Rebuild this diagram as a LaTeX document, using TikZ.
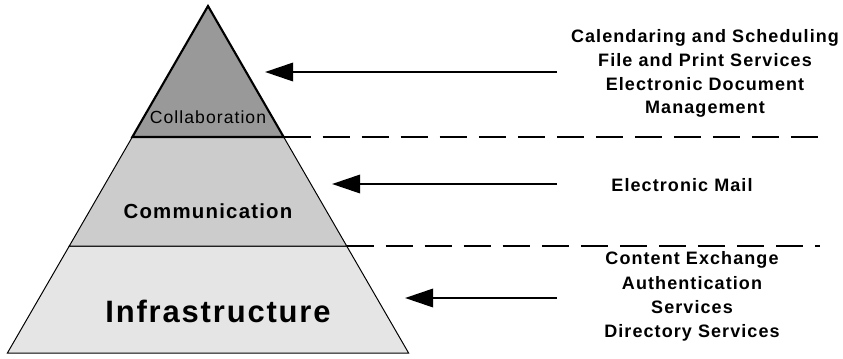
\documentclass[tikz,border=0pt]{standalone}
\usepackage{fontspec}
\setmainfont{Liberation Sans}
\newfontfamily\spaziato[LetterSpace=6]{Liberation Sans}
\usetikzlibrary{arrows.meta, positioning}
\definecolor{grigioscuro}{gray}{0.6}
\definecolor{grigiomedio}{gray}{0.8}
\definecolor{grigiochiaro}{gray}{0.9}

\begin{document}
\begin{tikzpicture}[
  x=0.025cm, y=-0.025cm,
  strato/.style={draw=black, line width=0.7pt},
  cima/.style={draw=black, fill=grigioscuro, line width=1.5pt},
  voce/.style={font=\spaziato\bfseries\fontsize{12.8}{15}\selectfont,
               inner sep=0pt, anchor=base},
  tratteggio/.style={draw=black, line width=1.9pt, dash pattern=on 0.675cm off 0.3cm},
  freccia/.style={draw=black, line width=1.9pt, -{Triangle[length=20pt,width=13pt]}}
]
\useasboundingbox (0,0) rectangle (843,358);

%--------------------------------------------------------------
% Piramide a tre livelli
%--------------------------------------------------------------
\coordinate (apice) at (208,6);
\coordinate (sx1) at (132.3,137);  \coordinate (dx1) at (283.7,137);
\coordinate (sx2) at (69.3,246);   \coordinate (dx2) at (346.7,246);
\coordinate (sx3) at (7.4,353);    \coordinate (dx3) at (408.6,353);

\filldraw[strato, fill=grigiochiaro] (sx2) -- (dx2) -- (dx3) -- (sx3) -- cycle;
\filldraw[strato, fill=grigiomedio] (sx1) -- (dx1) -- (dx2) -- (sx2) -- cycle;
\filldraw[cima] (apice) -- (dx1) -- (sx1) -- cycle;

\node[font=\spaziato\fontsize{12.5}{15}\selectfont, inner sep=0pt, anchor=base]
  (collab) at (208,123) {Collaboration};
\node[font=\spaziato\bfseries\fontsize{14.5}{17}\selectfont, inner sep=0pt, anchor=base]
  (comm) at (208,218) {Communication};
\node[font=\spaziato\bfseries\fontsize{22}{26}\selectfont, inner sep=0pt, anchor=base]
  (infra) at (218,322) {Infrastructure};

%--------------------------------------------------------------
% Separatori tratteggiati
%--------------------------------------------------------------
\coordinate (fine1) at (818,137);
\coordinate (fine2) at (820,246);
\draw[tratteggio] (dx1) -- (fine1);
\draw[tratteggio] (dx2) -- (fine2);

%--------------------------------------------------------------
% Servizi per livello
%--------------------------------------------------------------
\foreach \n/\x/\y/\testo in {%
  a1/705/42/{Calendaring and Scheduling},
  a2/705/66/{File and Print Services},
  a3/705/90/{Electronic Document},
  a4/705/113/{Management},
  b1/682/191/{Electronic Mail},
  c1/692/264/{Content Exchange},
  c2/692/289/{Authentication},
  c3/692/313/{Services},
  c4/692/337/{Directory Services}}{
  \node[voce] (voce\n) at (\x,\y) {\testo};
}

%--------------------------------------------------------------
% Frecce verso la piramide
%--------------------------------------------------------------
\foreach \n/\y/\xp in {1/72/265, 2/184/332, 3/298/405}{
  \coordinate (coda\n) at (557,\y);
  \coordinate (punta\n) at (\xp,\y);
  \draw[freccia] (coda\n) -- (punta\n);
}

\end{tikzpicture}
\end{document}
